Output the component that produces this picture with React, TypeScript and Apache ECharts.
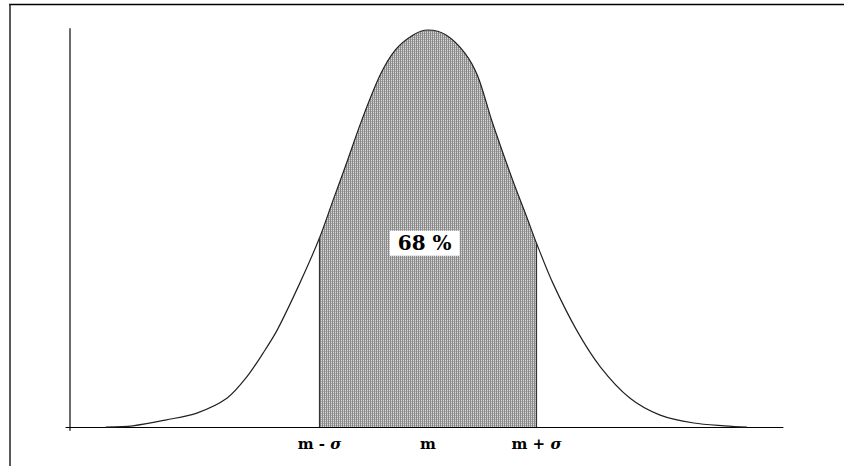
import React, { useEffect, useRef } from "react";
import * as echarts from "echarts";

// curve: x in units of sigma (m = 0), y relative to peak height
const curveX = [-2.97, -2.72, -2.41, -2.13, -1.85, -1.67, -1.52, -1.39, -1.18, -1.0, -0.88, -0.75, -0.61, -0.44, -0.3, -0.14, 0, 0.17, 0.34, 0.46, 0.59, 0.78, 0.91, 1.0, 1.15, 1.37, 1.59, 1.86, 2.14, 2.45, 2.73, 2.94];
const curveY = [0, 0.003, 0.018, 0.035, 0.073, 0.126, 0.186, 0.244, 0.363, 0.476, 0.567, 0.665, 0.773, 0.887, 0.95, 0.987, 1.0, 0.987, 0.942, 0.883, 0.77, 0.622, 0.529, 0.463, 0.363, 0.244, 0.151, 0.073, 0.03, 0.01, 0.003, 0];
const tickValues = [-1, 0, 1];
const tickLabels = ["m - ", "m", "m + "];
const areaLabel = "68 %";
const areaLabelPos = [-0.03, 0.463];

export default function App() {
  const ref = useRef<HTMLDivElement>(null);
  useEffect(() => {
    if (!ref.current) return;
    const chart = echarts.init(ref.current, undefined, { renderer: "svg" });
    const c = document.createElement("canvas");
    c.width = 2;
    c.height = 2;
    const ctx = c.getContext("2d")!;
    ctx.fillStyle = "#8a8a8a";
    ctx.fillRect(0, 0, 1, 2);
    ctx.fillStyle = "#d8d8d8";
    ctx.fillRect(1, 0, 1, 1);
    ctx.fillStyle = "#aaaaaa";
    ctx.fillRect(1, 1, 1, 1);

    const curve = curveX.map((x, i) => [x, curveY[i]]);
    const shaded = curve.filter((p) => p[0] >= -1 && p[0] <= 1);
    const left = shaded[0];
    const right = shaded[shaded.length - 1];
    const serif = "'DejaVu Serif', 'Liberation Serif', serif";
    const smooth = 0.3;

    chart.setOption({
      animation: false,
      backgroundColor: "#fff",
      grid: { left: 66, right: 61, top: 29, bottom: 36 },
      xAxis: {
        type: "value",
        min: -3.336,
        max: 3.272,
        splitLine: { show: false },
        axisLine: { onZero: true, lineStyle: { color: "#000", width: 1 } },
        axisTick: {
          show: true,
          customValues: [0],
          inside: true,
          length: 8,
          lineStyle: { color: "#666", width: 1.5 },
        },
        axisLabel: {
          customValues: tickValues,
          margin: 6,
          formatter: (v: number) => {
            const i = tickValues.indexOf(v);
            if (i < 0) return "";
            return i === 1 ? "{b|m}" : "{b|" + tickLabels[i] + "}{s|σ}";
          },
          rich: {
            b: { fontFamily: serif, fontWeight: "bold", fontSize: 15, color: "#000" },
            s: { fontFamily: serif, fontWeight: "bold", fontStyle: "italic", fontSize: 15, color: "#000" },
          },
        },
      },
      yAxis: {
        type: "value",
        min: -0.0076,
        max: 1.0025,
        offset: -4,
        splitLine: { show: false },
        axisLine: { show: true, onZero: false, lineStyle: { color: "#6b6b6b", width: 2 } },
        axisTick: { show: false },
        axisLabel: { show: false },
      },
      graphic: [
        { type: "line", shape: { x1: 9, y1: 4.5, x2: 844, y2: 4.5 }, style: { stroke: "#000", lineWidth: 1.5 } },
        { type: "line", shape: { x1: 10, y1: 4, x2: 10, y2: 466 }, style: { stroke: "#222", lineWidth: 1.5 } },
      ],
      series: [
        {
          type: "line",
          data: shaded,
          symbol: "none",
          smooth,
          lineStyle: { width: 0, opacity: 0 },
          areaStyle: { color: { image: c, repeat: "repeat" }, opacity: 1 },
          z: 2,
          markLine: {
            symbol: "none",
            silent: true,
            label: { show: false },
            lineStyle: { color: "#333", width: 1.2, type: "solid" },
            data: [
              [{ coord: [left[0], 0] }, { coord: [left[0], left[1]] }],
              [{ coord: [right[0], 0] }, { coord: [right[0], right[1]] }],
            ],
          },
          markPoint: {
            symbol: "rect",
            symbolSize: 0,
            data: [{ coord: areaLabelPos }],
            label: {
              show: true,
              position: "inside",
              formatter: areaLabel,
              fontFamily: serif,
              fontWeight: "bold",
              fontSize: 20,
              color: "#000",
              backgroundColor: "#fff",
              padding: [3, 8, 2, 8],
            },
          },
        },
        {
          type: "line",
          data: curve,
          symbol: "none",
          smooth,
          lineStyle: { color: "#222", width: 1.2 },
          z: 3,
        },
      ],
    });
    return () => chart.dispose();
  }, []);
  return <div ref={ref} style={{ width: 844, height: 466, position: "absolute", left: 0, top: 0 }} />;
}
